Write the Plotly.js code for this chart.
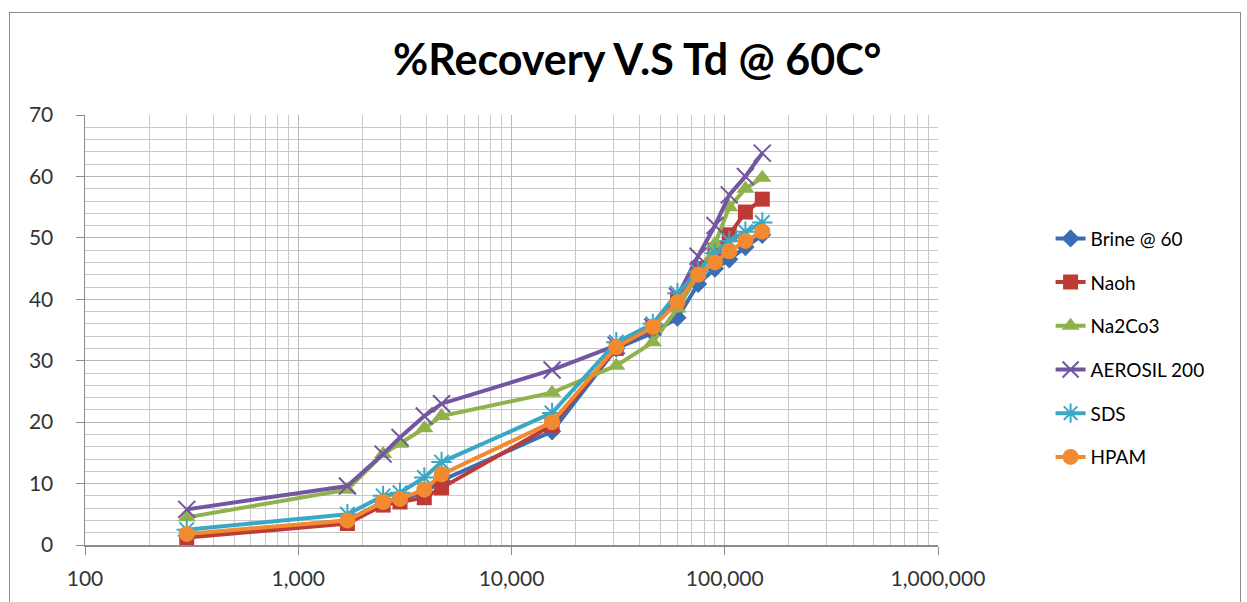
<!DOCTYPE html>
<html>
<head>
<meta charset="utf-8">
<script src="https://cdn.plot.ly/plotly-3.0.1.min.js"></script>
<style>
  html, body { margin: 0; padding: 0; background: #fff; }
  #chart { width: 1247px; height: 602px; }
  #frame { position: absolute; left: 9px; top: 12px; width: 1232px; height: 600px;
           border: 1.5px solid #8c8c8c; pointer-events: none; box-sizing: border-box; }
</style>
</head>
<body>
<div id="chart"></div>
<div id="frame"></div>
<script>
// Time values (Td) shared by all series
const td = [300, 1700, 2500, 3000, 3900, 4700, 15500, 31000, 46000, 60000, 75000, 90000, 105000, 125000, 150000];

const brine   = [1.5, 4.0, 7.0, 7.5, 8.5, 10.5, 18.5, 32.0, 34.5, 37.0, 42.5, 45.0, 46.5, 48.5, 50.5];
const naoh    = [1.2, 3.5, 6.5, 7.0, 7.7, 9.3, 19.5, 32.0, 35.5, 40.0, 45.0, 48.0, 50.5, 54.2, 56.3];
const na2co3  = [4.5, 9.0, 14.8, 16.5, 19.0, 21.0, 24.8, 29.2, 33.0, 38.5, 44.0, 49.0, 55.0, 58.0, 59.8];
const aerosil = [5.8, 9.6, 14.8, 17.5, 21.0, 23.0, 28.5, 32.5, 35.5, 40.5, 47.0, 52.0, 57.0, 60.0, 63.8];
const sds     = [2.5, 5.0, 8.0, 8.5, 11.0, 13.5, 21.5, 33.0, 36.0, 41.0, 44.5, 47.5, 49.5, 51.0, 52.5];
const hpam    = [1.8, 4.0, 7.0, 7.5, 9.0, 11.5, 20.0, 32.2, 35.5, 39.5, 44.0, 46.0, 47.8, 49.5, 51.0];

const seriesNames = ["Brine @ 60", "Naoh", "Na2Co3", "AEROSIL 200", "SDS", "HPAM"];
const seriesData = [brine, naoh, na2co3, aerosil, sds, hpam];
const colors = ["#3a6db3", "#be3a34", "#8fb24c", "#7257a0", "#3aa8c4", "#f28a30"];
const symbols = ["diamond", "square", "triangle-up", "x-thin-open", "asterisk-open", "circle"];
const sizes = [14, 15, 16, 17, 17, 16];

const traces = seriesNames.map((name, i) => ({
  type: "scatter",
  mode: "lines+markers",
  name: name,
  x: td,
  y: seriesData[i],
  legendgroup: "g" + i,
  line: { color: colors[i], width: 4 },
  marker: {
    symbol: symbols[i],
    size: sizes[i],
    color: colors[i],
    line: { color: colors[i], width: (i === 3 || i === 4) ? 2 : 0 }
  }
}));

const fontFam = "Lato, 'Open Sans', sans-serif";
const tickFont = { family: fontFam, size: 21, color: "#333" };

const layout = {
  width: 1247,
  height: 602,
  paper_bgcolor: "rgba(0,0,0,0)",
  plot_bgcolor: "#fff",
  margin: { l: 85, r: 309, t: 115, b: 57 },
  title: {
    text: "<b>%Recovery V.S Td @ 60C°</b>",
    font: { family: fontFam, size: 43, color: "#000" },
    x: 0.511, xref: "container", xanchor: "center",
    y: 0.9, yref: "container", yanchor: "middle"
  },
  xaxis: {
    type: "log",
    range: [2, 6],
    dtick: 1,
    tickformat: ",d",
    showgrid: true,
    gridcolor: "#b8b8b8",
    gridwidth: 1,
    minor: { dtick: "D1", showgrid: true, gridcolor: "#c8c8c8", gridwidth: 1, ticks: "" },
    showline: true,
    linecolor: "#8c8c8c",
    linewidth: 1.5,
    ticks: "outside",
    ticklen: 8,
    tickcolor: "#8c8c8c",
    tickfont: tickFont,
    ticklabelstandoff: 6,
    zeroline: false
  },
  yaxis: {
    range: [0, 70],
    dtick: 10,
    showgrid: true,
    gridcolor: "#b8b8b8",
    gridwidth: 1,
    minor: { dtick: 2, showgrid: true, gridcolor: "#c8c8c8", gridwidth: 1 },
    showline: true,
    linecolor: "#8c8c8c",
    linewidth: 1.5,
    ticks: "outside",
    ticklen: 8,
    tickcolor: "#8c8c8c",
    tickfont: tickFont,
    ticklabelstandoff: 18,
    zeroline: false
  },
  legend: {
    x: 1.132, xanchor: "left",
    y: 0.458, yanchor: "middle",
    font: { family: fontFam, size: 19, color: "#000" },
    traceorder: "grouped",
    tracegroupgap: 16,
    bgcolor: "rgba(0,0,0,0)"
  },
  showlegend: true
};

Plotly.newPlot("chart", traces, layout, { displayModeBar: false, staticPlot: true });
</script>
</body>
</html>
